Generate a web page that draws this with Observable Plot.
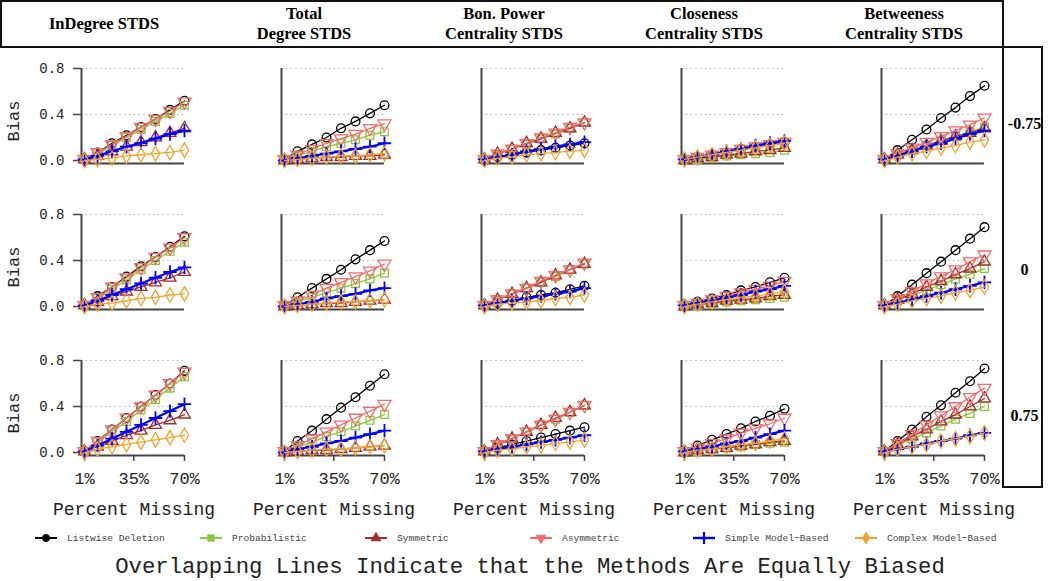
<!DOCTYPE html>
<html><head><meta charset="utf-8">
<script src="https://cdn.jsdelivr.net/npm/d3@7"></script>
<script src="https://cdn.jsdelivr.net/npm/@observablehq/plot@0.6"></script>
<style>
body{margin:0;background:#fff;}
#wrap{position:relative;width:1050px;height:581px;overflow:hidden;background:#fff;}
#chart{position:absolute;left:0;top:0;}
#header{position:absolute;left:0;top:0;width:1004px;height:48px;border:2px solid #111;box-sizing:border-box;}
#strip{position:absolute;left:1002px;top:46px;width:41px;height:442px;border:2px solid #111;box-sizing:border-box;}
#legend{position:absolute;left:0;top:527px;width:1050px;height:22px;}
.item{position:absolute;top:0;height:22px;display:flex;align-items:center;font:9.6px "Liberation Mono","DejaVu Sans Mono",monospace;color:#444;white-space:nowrap;}
.item svg{margin-right:10px;}
#title{position:absolute;left:0;top:553px;width:1060px;text-align:center;font:22.3px "Liberation Mono","DejaVu Sans Mono",monospace;color:#222;line-height:28px;white-space:nowrap;}
</style></head>
<body>
<div id="wrap">
  <div id="chart"></div>
  <div id="header"></div>
  <div id="strip"></div>
  <div id="legend"></div>
  <div id="title">Overlapping Lines Indicate that the Methods Are Equally Biased</div>
</div>
<script>
// ---- data ----
const pct = [1, 10, 20, 30, 40, 50, 60, 70];
const measures = ["InDegree", "TotalDegree", "BonPower", "Closeness", "Betweeness"];
const measureLabels = ["InDegree STDS", "Total\nDegree STDS", "Bon. Power\nCentrality STDS", "Closeness\nCentrality STDS", "Betweeness\nCentrality STDS"];
const rhoLabels = ["-0.75", "0", "0.75"];
const methods = ["Listwise Deletion", "Probabilistic", "Symmetric", "Asymmetric", "Simple Model\u2212Based", "Complex Model\u2212Based"];
const colors = ["#000000", "#8CC63F", "#A52A2A", "#F26B6B", "#0000FF", "#F2A52B"];

// each panel: rows = methods (LD, Prob, Sym, Asym, Simple, Complex), columns = pct
const inDeg_n = [
 [0.01,0.07,0.15,0.22,0.29,0.36,0.44,0.52],
 [0.01,0.06,0.13,0.20,0.27,0.34,0.41,0.48],
 [0.01,0.04,0.08,0.12,0.16,0.20,0.24,0.28],
 [0.01,0.07,0.14,0.21,0.29,0.36,0.43,0.51],
 [0.01,0.04,0.08,0.12,0.15,0.19,0.23,0.26],
 [0.00,0.01,0.02,0.04,0.05,0.06,0.07,0.09]];
const totDeg_n = [
 [0.01,0.08,0.14,0.20,0.28,0.34,0.41,0.48],
 [0.01,0.04,0.08,0.12,0.15,0.18,0.22,0.25],
 [0.00,0.01,0.02,0.03,0.03,0.04,0.04,0.05],
 [0.01,0.05,0.10,0.15,0.19,0.23,0.28,0.32],
 [0.00,0.02,0.04,0.06,0.08,0.10,0.12,0.15],
 [0.00,0.01,0.02,0.03,0.04,0.04,0.05,0.06]];
const bonPow_n = [
 [0.00,0.03,0.05,0.07,0.09,0.11,0.13,0.15],
 [0.01,0.05,0.10,0.14,0.19,0.23,0.28,0.33],
 [0.01,0.06,0.10,0.15,0.19,0.24,0.28,0.33],
 [0.01,0.06,0.10,0.15,0.20,0.24,0.29,0.33],
 [0.01,0.03,0.05,0.08,0.10,0.12,0.14,0.16],
 [0.00,0.02,0.03,0.05,0.06,0.07,0.08,0.09]];
const close_n = [
 [0.01,0.03,0.05,0.07,0.10,0.12,0.14,0.16],
 [0.00,0.01,0.02,0.04,0.05,0.06,0.07,0.09],
 [0.00,0.02,0.03,0.05,0.06,0.08,0.09,0.11],
 [0.01,0.03,0.05,0.07,0.10,0.12,0.14,0.16],
 [0.01,0.03,0.05,0.08,0.10,0.13,0.15,0.17],
 [0.01,0.03,0.05,0.07,0.09,0.11,0.13,0.15]];
const betw_n = [
 [0.01,0.09,0.18,0.27,0.37,0.46,0.56,0.65],
 [0.01,0.05,0.09,0.13,0.17,0.21,0.25,0.29],
 [0.01,0.05,0.09,0.13,0.17,0.21,0.24,0.28],
 [0.01,0.06,0.11,0.16,0.21,0.26,0.31,0.37],
 [0.01,0.04,0.08,0.12,0.15,0.19,0.23,0.26],
 [0.00,0.03,0.06,0.08,0.11,0.13,0.16,0.18]];

const inDeg_0 = [
 [0.01,0.09,0.17,0.26,0.35,0.43,0.52,0.61],
 [0.01,0.07,0.15,0.23,0.32,0.40,0.48,0.56],
 [0.01,0.04,0.09,0.13,0.17,0.21,0.25,0.30],
 [0.01,0.08,0.17,0.25,0.34,0.43,0.51,0.60],
 [0.01,0.05,0.10,0.15,0.20,0.25,0.30,0.34],
 [0.00,0.02,0.03,0.05,0.07,0.08,0.10,0.11]];
const totDeg_0 = [
 [0.01,0.08,0.16,0.24,0.32,0.41,0.49,0.57],
 [0.01,0.04,0.08,0.12,0.16,0.20,0.24,0.29],
 [0.00,0.01,0.02,0.03,0.03,0.04,0.05,0.06],
 [0.01,0.05,0.10,0.16,0.21,0.26,0.31,0.37],
 [0.00,0.02,0.04,0.07,0.09,0.11,0.14,0.16],
 [0.00,0.01,0.02,0.03,0.04,0.04,0.05,0.06]];
const bonPow_0 = [
 [0.01,0.03,0.05,0.08,0.10,0.12,0.15,0.18],
 [0.01,0.06,0.11,0.16,0.21,0.26,0.32,0.37],
 [0.01,0.06,0.11,0.16,0.21,0.27,0.32,0.37],
 [0.01,0.06,0.11,0.16,0.22,0.27,0.32,0.38],
 [0.01,0.03,0.05,0.07,0.09,0.11,0.13,0.16],
 [0.00,0.02,0.03,0.04,0.05,0.07,0.08,0.10]];
const close_0 = [
 [0.01,0.04,0.07,0.10,0.14,0.17,0.21,0.25],
 [0.00,0.01,0.02,0.04,0.05,0.06,0.07,0.08],
 [0.00,0.02,0.03,0.05,0.06,0.07,0.09,0.10],
 [0.01,0.03,0.06,0.09,0.12,0.15,0.18,0.22],
 [0.01,0.03,0.05,0.08,0.10,0.13,0.15,0.18],
 [0.00,0.02,0.04,0.06,0.08,0.09,0.11,0.13]];
const betw_0 = [
 [0.01,0.09,0.19,0.29,0.39,0.49,0.59,0.69],
 [0.01,0.05,0.10,0.14,0.19,0.24,0.28,0.33],
 [0.01,0.06,0.11,0.17,0.22,0.28,0.33,0.39],
 [0.01,0.07,0.13,0.20,0.26,0.32,0.39,0.45],
 [0.01,0.03,0.06,0.09,0.12,0.15,0.18,0.21],
 [0.00,0.02,0.05,0.07,0.09,0.12,0.14,0.17]];

const inDeg_p = [
 [0.01,0.10,0.20,0.30,0.40,0.50,0.60,0.71],
 [0.01,0.09,0.18,0.27,0.37,0.46,0.56,0.66],
 [0.01,0.05,0.10,0.15,0.19,0.24,0.28,0.33],
 [0.01,0.10,0.20,0.30,0.40,0.50,0.60,0.70],
 [0.01,0.06,0.12,0.18,0.24,0.30,0.36,0.42],
 [0.00,0.03,0.05,0.07,0.09,0.11,0.13,0.15]];
const totDeg_p = [
 [0.01,0.10,0.19,0.29,0.39,0.48,0.58,0.68],
 [0.01,0.05,0.09,0.14,0.18,0.23,0.28,0.33],
 [0.00,0.01,0.02,0.02,0.03,0.04,0.05,0.06],
 [0.01,0.06,0.12,0.18,0.24,0.30,0.36,0.42],
 [0.00,0.03,0.05,0.08,0.10,0.13,0.16,0.19],
 [0.00,0.01,0.02,0.03,0.03,0.04,0.05,0.06]];
const bonPow_p = [
 [0.01,0.04,0.07,0.10,0.13,0.16,0.19,0.22],
 [0.01,0.07,0.12,0.18,0.24,0.29,0.35,0.41],
 [0.01,0.07,0.12,0.18,0.24,0.30,0.35,0.41],
 [0.01,0.07,0.12,0.18,0.24,0.29,0.35,0.41],
 [0.01,0.03,0.05,0.07,0.09,0.11,0.13,0.15],
 [0.00,0.02,0.03,0.05,0.06,0.08,0.09,0.11]];
const close_p = [
 [0.01,0.06,0.11,0.16,0.21,0.27,0.32,0.38],
 [0.00,0.01,0.03,0.04,0.05,0.07,0.08,0.09],
 [0.00,0.02,0.03,0.04,0.06,0.07,0.09,0.10],
 [0.01,0.04,0.08,0.12,0.17,0.21,0.25,0.30],
 [0.01,0.03,0.05,0.08,0.10,0.13,0.16,0.19],
 [0.00,0.02,0.03,0.05,0.07,0.08,0.10,0.12]];
const betw_p = [
 [0.01,0.10,0.20,0.31,0.41,0.52,0.62,0.73],
 [0.01,0.06,0.12,0.17,0.23,0.29,0.34,0.40],
 [0.01,0.07,0.14,0.20,0.27,0.33,0.40,0.47],
 [0.01,0.08,0.16,0.24,0.32,0.40,0.48,0.56],
 [0.01,0.03,0.05,0.08,0.10,0.12,0.15,0.17],
 [0.00,0.03,0.05,0.07,0.10,0.12,0.14,0.17]];

const panelGrid = [
  [inDeg_n, totDeg_n, bonPow_n, close_n, betw_n],
  [inDeg_0, totDeg_0, bonPow_0, close_0, betw_0],
  [inDeg_p, totDeg_p, bonPow_p, close_p, betw_p]
];

// ---- long table ----
const rows = [];
rhoLabels.forEach((rho, ri) => measures.forEach((m, mi) =>
  panelGrid[ri][mi].forEach((vals, k) => vals.forEach((v, i) =>
    rows.push({rho, measure: m, method: methods[k], pct: pct[i], bias: v})))));

const triangleDown = {
  draw(ctx, size) {
    d3.symbolTriangle.draw({
      moveTo: (x, y) => ctx.moveTo(x, -y),
      lineTo: (x, y) => ctx.lineTo(x, -y),
      closePath: () => ctx.closePath()
    }, size);
  }
};
const symbols = ["circle", "square", "triangle", triangleDown, "plus", "diamond"];
const d3Symbols = [d3.symbolCircle, d3.symbolSquare, d3.symbolTriangle, triangleDown, d3.symbolPlus, d3.symbolDiamond];

const xDomain = [-1.07, 71.4];
const yDomain = [-0.026, 0.8];

const marks = [
  Plot.gridY({ticks: [0.4, 0.8], stroke: "#a0a0a0", strokeOpacity: 1, strokeWidth: 1.2, strokeDasharray: "1.2,3.6"}),
  Plot.ruleX([xDomain[0]], {stroke: "#444", strokeWidth: 2}),
  Plot.ruleY([yDomain[0]], {x1: () => pct[0], x2: () => pct[pct.length - 1], stroke: "#444", strokeWidth: 2}),
  Plot.axisY({ticks: [0, 0.4, 0.8], tickFormat: d3.format(".1f"), tickSize: 8, tickPadding: 9, fontSize: 14,
    facetAnchor: "left", label: null, strokeWidth: 1.5, stroke: "#444"}),
  Plot.axisX({ticks: [1, 35, 70], tickFormat: d => d + "%", tickSize: 6, tickPadding: 10, fontSize: 17,
    facetAnchor: "bottom", label: null, strokeWidth: 1.5, stroke: "#444"})
];

methods.forEach((m, k) => {
  const sub = rows.filter(d => d.method === m);
  marks.push(Plot.line(sub, {x: "pct", y: "bias", fx: "measure", fy: "rho", stroke: colors[k], strokeWidth: k === 4 ? 2.2 : 1.3}));
  marks.push(Plot.dot(sub, {x: "pct", y: "bias", fx: "measure", fy: "rho", symbol: symbols[k], stroke: colors[k], fill: "none",
    r: k === 3 ? 4.8 : 4.4, strokeWidth: k === 4 ? 1.8 : 1.3}));
});

// facet labels / axis titles
marks.push(Plot.text(measures, {fx: d => d, fy: () => rhoLabels[0], text: (d, i) => measureLabels[i], frameAnchor: "top",
  textAnchor: "middle", dy: -46, dx: -30, lineAnchor: "middle", lineHeight: 1.2, fontFamily: "Liberation Serif", fontWeight: "bold", fontSize: 16.5, fill: "#000"}));
marks.push(Plot.text(rhoLabels, {fy: d => d, fx: () => measures[measures.length - 1], text: d => d, frameAnchor: "right",
  textAnchor: "middle", dx: 38, dy: 8, fontFamily: "Liberation Serif", fontWeight: "bold", fontSize: 16, fill: "#000"}));
marks.push(Plot.text(rhoLabels, {fy: d => d, fx: () => measures[0], text: () => "Bias", frameAnchor: "left",
  textAnchor: "middle", dx: -68, dy: 5, rotate: -90, fontSize: 17, fill: "#222"}));
marks.push(Plot.text(measures, {fx: d => d, fy: () => rhoLabels[rhoLabels.length - 1], text: () => "Percent Missing", frameAnchor: "bottom",
  textAnchor: "middle", dy: 54, lineAnchor: "middle", fontSize: 18, fill: "#222"}));

const H = 525;
const chart = Plot.plot({
  width: 1050, height: H,
  marginTop: 67.3, marginBottom: H - 456.7, marginLeft: 80, marginRight: 63,
  style: {fontFamily: "'Liberation Mono', 'DejaVu Sans Mono', monospace", color: "#222", background: "transparent"},
  x: {domain: xDomain},
  y: {domain: yDomain},
  fx: {domain: measures, paddingInner: 0.476, paddingOuter: 0, axis: null},
  fy: {domain: rhoLabels, paddingInner: 0.348, paddingOuter: 0, axis: null},
  marks
});
document.getElementById("chart").appendChild(chart);

// ---- legend ----
const legendX = [35, 200, 365, 530, 693, 855];
const legend = d3.select("#legend");
methods.forEach((m, k) => {
  const item = legend.append("div").attr("class", "item").style("left", legendX[k] + "px");
  const svg = item.append("svg").attr("width", 22).attr("height", 12);
  svg.append("line").attr("x1", 0).attr("x2", 22).attr("y1", 6).attr("y2", 6)
    .attr("stroke", colors[k]).attr("stroke-width", k === 4 ? 2.4 : 2);
  const isPlus = k === 4;
  svg.append("path").attr("transform", "translate(11,6)")
    .attr("d", d3.symbol(d3Symbols[k], isPlus ? 70 : 40)())
    .attr("fill", isPlus ? "none" : colors[k])
    .attr("stroke", colors[k]).attr("stroke-width", isPlus ? 2.2 : 1);
  item.append("span").text(m);
});
</script>
</body></html>
